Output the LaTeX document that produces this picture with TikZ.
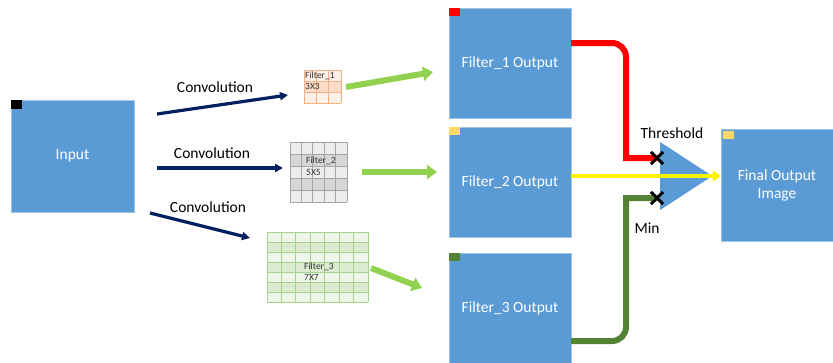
\documentclass[tikz,border=0pt]{standalone}
\usepackage{fontspec}
\setmainfont{Carlito}
\usepackage{tikz}
\usetikzlibrary{shapes.geometric, shapes.misc, arrows.meta, positioning}

\definecolor{boxblue}{HTML}{5B9BD5}
\definecolor{convnavy}{HTML}{002060}
\definecolor{feedgreen}{HTML}{92D050}
\definecolor{minegreen}{HTML}{548235}
\definecolor{goldsq}{HTML}{FFD966}
\definecolor{salmonL}{HTML}{FDF0E9}
\definecolor{salmonD}{HTML}{FADCC8}
\definecolor{salmonLine}{HTML}{F4B183}
\definecolor{grayL}{HTML}{EDEDED}
\definecolor{grayD}{HTML}{D6D6D6}
\definecolor{grayLine}{HTML}{A5A5A5}
\definecolor{greenL}{HTML}{EEF6E9}
\definecolor{greenD}{HTML}{DAEBCF}
\definecolor{greenLine}{HTML}{A9D18E}

\begin{document}
\begin{tikzpicture}[x=1pt, y=-1pt,
        outbox/.style={rectangle, fill=boxblue, draw=boxblue!60!white, text=white, inner sep=0pt, minimum width=122pt, minimum height=110pt, align=center, font=\fontsize{15.5}{18}\selectfont},
        gridbox/.style={rectangle, inner sep=0pt},
        conv/.style={-{Triangle[length=8pt,width=8pt]}, line width=3.2pt, convnavy},
        feed/.style={-{Triangle[length=10pt,width=14pt]}, line width=6pt, feedgreen},
        lbl/.style={font=\fontsize{15.5}{18}\selectfont},
        tinytext/.style={font=\fontsize{9.5}{11}\selectfont, inner sep=0pt, anchor=west, text=black!80},
        xmark/.style={cross out, draw=black, line width=2.8pt, minimum size=9pt, inner sep=0pt},
    ]
        \useasboundingbox (0,0) rectangle (833,362);

        % main boxes
        \node[outbox, minimum width=123pt, minimum height=112pt] (input) at (72.5,156) {Input};
        \node[outbox] (out1) at (510,63) {Filter\_1 Output};
        \node[outbox] (out2) at (510,182) {Filter\_2 Output};
        \node[outbox] (out3) at (510,308) {Filter\_3 Output};
        \node[outbox, minimum width=112pt, minimum height=112pt] (final) at (777,185) {Final Output\\Image};

        % corner tags
        \fill[black] (input.north west) rectangle ++(11,9);
        \fill[red] (out1.north west) rectangle ++(11,8);
        \fill[goldsq] (out2.north west) rectangle ++(11,8);
        \fill[minegreen] (out3.north west) rectangle ++(11,8);
        \fill[goldsq] ([xshift=2pt,yshift=-2pt]final.north west) rectangle ++(11,8);

        % filter grids
        \node[gridbox, minimum width=37pt, minimum height=33pt] (filtA) at (322.5,86.5) {};
        \begin{scope}[shift={(filtA.north west)}]
            \foreach \r/\col in {0/salmonL,1/salmonD,2/salmonL}
                \fill[\col] (0,\r*11) rectangle ++(37,11);
            \foreach \i in {0,...,3}
                \draw[salmonLine, line width=0.4pt] (\i*12.33,0) -- (\i*12.33,33) (0,\i*11) -- (37,\i*11);
        \end{scope}
        \node[tinytext] at (305,75.5) {Filter\_1};
        \node[tinytext] at (305,86.5) {3X3};

        \node[gridbox, minimum width=57pt, minimum height=60pt] (filtB) at (318.5,172) {};
        \begin{scope}[shift={(filtB.north west)}]
            \foreach \r/\col in {0/grayL,1/grayD,2/grayL,3/grayD,4/grayL}
                \fill[\col] (0,\r*12) rectangle ++(57,12);
            \foreach \i in {0,...,5}
                \draw[grayLine, line width=0.4pt] (\i*11.4,0) -- (\i*11.4,60) (0,\i*12) -- (57,\i*12);
        \end{scope}
        \node[tinytext] at (306,161) {Filter\_2};
        \node[tinytext] at (306,172) {5X5};

        \node[gridbox, minimum width=101pt, minimum height=70pt] (filtC) at (317.5,267) {};
        \begin{scope}[shift={(filtC.north west)}]
            \foreach \r/\col in {0/greenL,1/greenD,2/greenL,3/greenD,4/greenL,5/greenD,6/greenL}
                \fill[\col] (0,\r*10) rectangle ++(101,10);
            \foreach \i in {0,...,7}
                \draw[greenLine, line width=0.4pt] (\i*14.43,0) -- (\i*14.43,70) (0,\i*10) -- (101,\i*10);
        \end{scope}
        \node[tinytext] at (304,267) {Filter\_3};
        \node[tinytext] at (304,277.5) {7X7};

        % convolution arrows
        \coordinate (c1s) at (157,114);
        \coordinate (c1e) at (288,95);
        \coordinate (c2s) at (157,168);
        \coordinate (c2e) at (283,168);
        \coordinate (c3s) at (150,213);
        \coordinate (c3e) at (250,238);
        \draw[conv] (c1s) -- (c1e);
        \draw[conv] (c2s) -- (c2e);
        \draw[conv] (c3s) -- (c3e);
        \node[lbl] (lconv1) at (215,87) {Convolution};
        \node[lbl] (lconv2) at (212,153) {Convolution};
        \node[lbl] (lconv3) at (208,207) {Convolution};

        % filter to output arrows
        \coordinate (g1s) at (346,87);
        \coordinate (g1e) at (433,72);
        \coordinate (g2s) at (362,172);
        \coordinate (g2e) at (437,172);
        \coordinate (g3s) at (371,268);
        \coordinate (g3e) at (422,288);
        \draw[feed] (g1s) -- (g1e);
        \draw[feed] (g2s) -- (g2e);
        \draw[feed] (g3s) -- (g3e);

        % threshold gate
        \node[isosceles triangle, isosceles triangle stretches, shape border rotate=0, fill=boxblue, inner sep=0pt, minimum width=68pt, minimum height=52pt, anchor=west] (gate) at (660,176) {};
        \node[lbl] (thr) at (672,133) {Threshold};
        \node[lbl] (minlbl) at (647,228) {Min};

        \node[xmark] (x1) at (657,158) {};
        \node[xmark] (x2) at (657,198) {};

        \draw[red, line width=6pt] ([yshift=20pt]out1.east) -- (612,43) to[out=0, in=90] (626,57) -- (626,158) -- (x1.center);
        \draw[minegreen, line width=6pt] ([yshift=-33pt]out3.east) -- (612,341) to[out=0, in=-90] (626,327) -- (626,198) -- (x2.center);
        \node[xmark] at (x1) {};
        \node[xmark] at (x2) {};

        \draw[yellow, line width=4.5pt, -{Triangle[length=8pt,width=11pt]}] (out2.east |- gate.west) -- (final.west |- gate.west);
    \end{tikzpicture}
\end{document}
